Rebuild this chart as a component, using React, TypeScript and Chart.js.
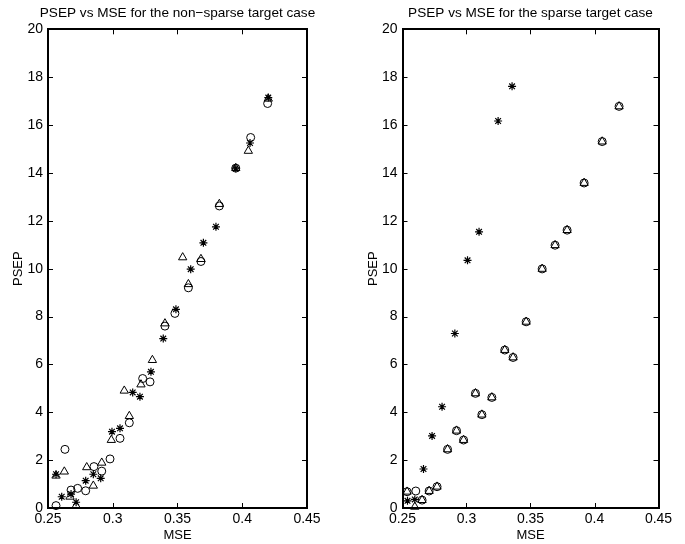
import React, { useEffect, useRef } from "react";
import { Chart, registerables } from "chart.js";

Chart.register(...registerables);

// ---------- tick values ----------
const mseTicks = [0.25, 0.3, 0.35, 0.4, 0.45];
const psepTicks = [0, 2, 4, 6, 8, 10, 12, 14, 16, 18, 20];

// ---------- left panel: non-sparse target case ----------
const leftCircleMSE = [0.4196, 0.4065, 0.395, 0.3823, 0.3681, 0.3584, 0.348, 0.3403, 0.3231, 0.3288, 0.3128, 0.3056, 0.2631, 0.2979, 0.2855, 0.2915, 0.2729, 0.2678, 0.2791, 0.2562];
const leftCirclePSEP = [16.9, 15.48, 14.2, 12.62, 10.3, 9.2, 8.13, 7.6, 5.41, 5.27, 3.56, 2.91, 2.45, 2.05, 1.73, 1.54, 0.82, 0.75, 0.72, 0.1];

const leftTriangleMSE = [0.4201, 0.4047, 0.395, 0.3823, 0.354, 0.3681, 0.3584, 0.3403, 0.3306, 0.3218, 0.3089, 0.3128, 0.2989, 0.2915, 0.2799, 0.2626, 0.2562, 0.285, 0.267, 0.2717];
const leftTrianglePSEP = [17.1, 14.92, 14.2, 12.7, 10.47, 10.4, 9.35, 7.71, 6.18, 5.16, 4.9, 3.84, 2.84, 1.89, 1.7, 1.52, 1.35, 0.93, 0.47, 0.1];

const leftStarMSE = [0.4201, 0.406, 0.395, 0.3797, 0.37, 0.3602, 0.3488, 0.339, 0.3295, 0.3154, 0.321, 0.3056, 0.2994, 0.2562, 0.285, 0.2907, 0.2791, 0.2606, 0.2678, 0.2717];
const leftStarPSEP = [17.15, 15.25, 14.2, 11.75, 11.08, 9.98, 8.3, 7.08, 5.69, 4.83, 4.65, 3.33, 3.19, 1.41, 1.41, 1.24, 1.14, 0.47, 0.58, 0.24];

// ---------- right panel: sparse target case ----------
const rightCircleMSE = [0.4192, 0.406, 0.3919, 0.3786, 0.3692, 0.3591, 0.3466, 0.3299, 0.3364, 0.307, 0.3198, 0.312, 0.2922, 0.2977, 0.2852, 0.277, 0.2708, 0.2536, 0.2653, 0.2604];
const rightCirclePSEP = [16.78, 15.31, 13.58, 11.61, 10.98, 9.99, 7.78, 6.6, 6.29, 4.79, 4.62, 3.9, 3.23, 2.84, 2.45, 0.89, 0.71, 0.68, 0.33, 0.71];

const rightTriangleMSE = [0.4192, 0.406, 0.3919, 0.3786, 0.3692, 0.3591, 0.3466, 0.3299, 0.3364, 0.307, 0.3198, 0.312, 0.2922, 0.2977, 0.2852, 0.277, 0.2708, 0.2536, 0.2653, 0.2596];
const rightTrianglePSEP = [16.78, 15.31, 13.58, 11.61, 10.98, 9.99, 7.78, 6.6, 6.29, 4.79, 4.62, 3.9, 3.23, 2.84, 2.45, 0.89, 0.71, 0.68, 0.33, 0.05];

const rightStarMSE = [0.3356, 0.3247, 0.3098, 0.3008, 0.2909, 0.2809, 0.2731, 0.2664, 0.2539, 0.2596];
const rightStarPSEP = [17.62, 16.17, 11.54, 10.35, 7.29, 4.23, 3.01, 1.63, 0.3, 0.36];

const leftTitle = "PSEP vs MSE for the non\u2212sparse target case";
const rightTitle = "PSEP vs MSE for the sparse target case";
const xTitle = "MSE";
const yTitle = "PSEP";

const FONT = "'Liberation Sans', Arial, Helvetica, sans-serif";

const pts = (xs: number[], ys: number[]) => xs.map((x, i) => ({ x, y: ys[i] }));

const boxPlugin = {
  id: "matlabBox",
  beforeDatasetsDraw(chart: any) {
    const { ctx, chartArea: a, scales } = chart;
    const x = scales.x;
    const y = scales.y;
    ctx.save();
    ctx.strokeStyle = "#000";
    ctx.lineWidth = 1;
    ctx.beginPath();
    x.ticks.forEach((_t: any, i: number) => {
      const px = Math.round(x.getPixelForTick(i)) + 0.5;
      ctx.moveTo(px, a.bottom);
      ctx.lineTo(px, a.bottom - 5);
      ctx.moveTo(px, a.top);
      ctx.lineTo(px, a.top + 5);
    });
    y.ticks.forEach((_t: any, i: number) => {
      const py = Math.round(y.getPixelForTick(i)) + 0.5;
      ctx.moveTo(a.left, py);
      ctx.lineTo(a.left + 5, py);
      ctx.moveTo(a.right, py);
      ctx.lineTo(a.right - 5, py);
    });
    ctx.stroke();
    ctx.lineWidth = 2;
    ctx.strokeRect(Math.round(a.left), Math.round(a.top), Math.round(a.right - a.left), Math.round(a.bottom - a.top));
    ctx.restore();
  },
};

type Series = { data: { x: number; y: number }[]; style: string; radius: number; width: number };

function SubPlot(props: {
  title: string;
  series: Series[];
  left: number;
  width: number;
  axisWidth: number;
  rightWidth: number;
  yTitlePad: number;
}) {
  const ref = useRef<HTMLCanvasElement | null>(null);
  useEffect(() => {
    if (!ref.current) return;
    const chart = new Chart(ref.current, {
      type: "scatter",
      data: {
        datasets: props.series.map((s) => ({
          data: s.data,
          pointStyle: s.style as any,
          pointRadius: s.radius,
          pointHoverRadius: s.radius,
          pointBorderWidth: s.width,
          borderColor: "#000",
          backgroundColor: "rgba(0,0,0,0)",
          showLine: false,
          clip: false as any,
        })),
      },
      options: {
        animation: false,
        responsive: false,
        devicePixelRatio: 1,
        events: [],
        layout: { padding: 0 },
        plugins: {
          legend: { display: false },
          tooltip: { enabled: false },
          title: {
            display: true,
            text: props.title,
            fullSize: true,
            color: "#000",
            font: { family: FONT, size: 13.6, weight: "normal" as any },
            padding: { top: 5, bottom: 8 },
          },
        },
        scales: {
          x: {
            type: "linear",
            min: 0.25,
            max: 0.45,
            afterBuildTicks: (s: any) => {
              s.ticks = mseTicks.map((v) => ({ value: v }));
            },
            afterFit: (s: any) => {
              s.height = 36;
            },
            ticks: {
              callback: (v: any) => String(v),
              color: "#000",
              font: { family: FONT, size: 14 },
              padding: 3,
              maxRotation: 0,
              autoSkip: false,
            },
            grid: { display: false, drawTicks: false },
            border: { display: false },
            title: {
              display: true,
              text: xTitle,
              color: "#000",
              font: { family: FONT, size: 13 },
              padding: { top: 0, bottom: 0.5 },
            },
          },
          y: {
            type: "linear",
            min: 0,
            max: 20,
            afterBuildTicks: (s: any) => {
              s.ticks = psepTicks.map((v) => ({ value: v }));
            },
            afterFit: (s: any) => {
              s.width = props.axisWidth;
            },
            ticks: {
              callback: (v: any) => String(v),
              color: "#000",
              font: { family: FONT, size: 14 },
              padding: 5,
              autoSkip: false,
            },
            grid: { display: false, drawTicks: false },
            border: { display: false },
            title: {
              display: true,
              text: yTitle,
              color: "#000",
              font: { family: FONT, size: 13 },
              padding: { top: props.yTitlePad, bottom: 0 },
            },
          },
          yRight: {
            type: "linear",
            position: "right",
            min: 0,
            max: 20,
            afterFit: (s: any) => {
              s.width = props.rightWidth;
            },
            ticks: { display: false },
            grid: { display: false, drawTicks: false },
            border: { display: false },
          },
        },
      },
      plugins: [boxPlugin],
    });
    return () => chart.destroy();
  }, []);
  return (
    <canvas
      ref={ref}
      width={props.width}
      height={544}
      style={{ position: "absolute", left: props.left, top: 0, width: props.width, height: 544 }}
    />
  );
}

export default function App() {
  const leftSeries: Series[] = [
    { data: pts(leftCircleMSE, leftCirclePSEP), style: "circle", radius: 4, width: 1 },
    { data: pts(leftTriangleMSE, leftTrianglePSEP), style: "triangle", radius: 4.8, width: 1 },
    { data: pts(leftStarMSE, leftStarPSEP), style: "star", radius: 4, width: 1.2 },
  ];
  const rightSeries: Series[] = [
    { data: pts(rightCircleMSE, rightCirclePSEP), style: "circle", radius: 4, width: 1 },
    { data: pts(rightTriangleMSE, rightTrianglePSEP), style: "triangle", radius: 4.8, width: 1 },
    { data: pts(rightStarMSE, rightStarPSEP), style: "star", radius: 4, width: 1.2 },
  ];
  return (
    <div style={{ position: "fixed", left: 0, top: 0, width: 685, height: 544, background: "#fff", overflow: "hidden" }}>
      <SubPlot title={leftTitle} series={leftSeries} left={0} width={355} axisWidth={48} rightWidth={48} yTitlePad={10.7} />
      <SubPlot title={rightTitle} series={rightSeries} left={355} width={351} axisWidth={47.5} rightWidth={47.5} yTitlePad={10.2} />
    </div>
  );
}
